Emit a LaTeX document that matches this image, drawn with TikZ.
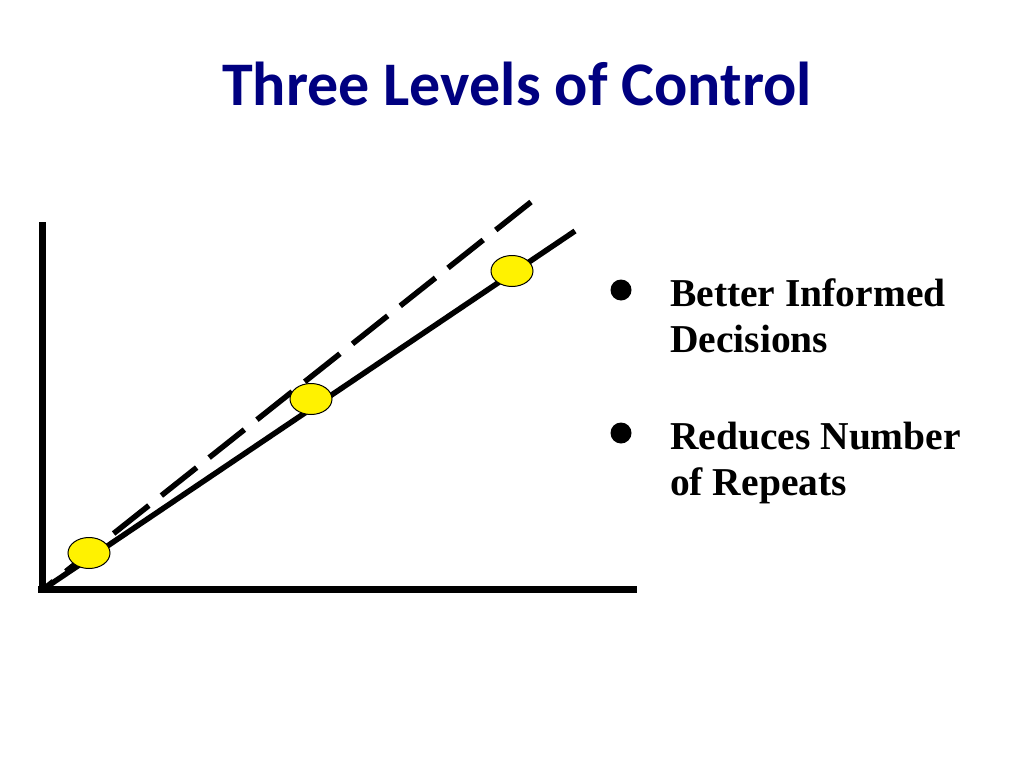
\documentclass[tikz,border=0pt]{standalone}
\usepackage{xcolor}
\usepackage{fontspec}
\usepackage{tikz}
\usetikzlibrary{shapes.geometric}
\setmainfont{Liberation Serif}
\newfontfamily\titlefont{Carlito}
\definecolor{titleblue}{RGB}{0,0,128}
\tikzset{
  axis/.style={line width=7pt},
  trend/.style={line width=5.5pt},
  plan/.style={line width=5.5pt, dash pattern=on 45pt off 16pt},
  sample/.style={ellipse, draw=black, fill=yellow, line width=1pt, minimum width=42pt, minimum height=31pt, inner sep=0pt},
  bullet/.style={circle, fill=black, minimum size=21pt, inner sep=0pt},
  item/.style={anchor=base west, inner sep=0pt, font=\fontsize{39.5}{46}\selectfont\bfseries}
}
\begin{document}
\begin{tikzpicture}[x=1pt,y=-1pt]
\useasboundingbox (0,0) rectangle (1024,768);
\coordinate [] (O) at (42,589);
\coordinate [] (Ytop) at (42,222);
\coordinate [] (Xend) at (637,589);
\coordinate [] (S) at (575,231);
\coordinate [] (D) at (531,202);
\node[anchor=base, inner sep=0pt, text=titleblue, font=\fontsize{62}{72}\titlefont\bfseries] (title) at (517,105) {Three Levels of Control};
% axes
\draw[axis] (42,592) -- (Ytop);
\draw[axis] (38,589) -- (Xend);
% lines
\draw[plan] (D) -- (45,588);
\draw[trend] (45,588) -- (S);
\node[sample] (p1) at (89,553) {};
\node[sample] (p2) at (311,399) {};
\node[sample] (p3) at (512,271) {};
% bullets
\node[bullet] (b1) at (621,290) {};
\node[item] (t1) at (670,306) {Better Informed};
\node[item] (t2) at (670,352) {Decisions};
\node[bullet] (b2) at (621,433) {};
\node[item] (t3) at (670,449) {Reduces Number};
\node[item] (t4) at (670,495) {of Repeats};
\end{tikzpicture}
\end{document}
